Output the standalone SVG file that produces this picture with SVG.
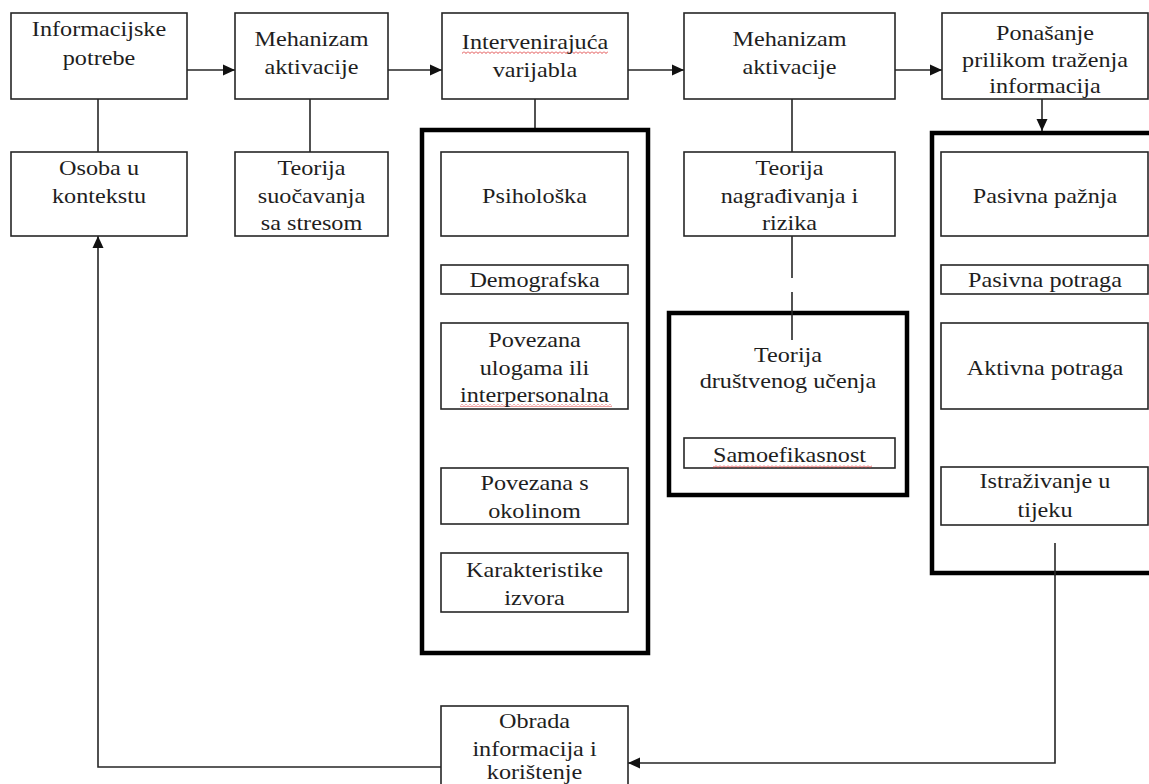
<svg xmlns="http://www.w3.org/2000/svg" width="1149" height="784" viewBox="0 0 1149 784">
<defs>
<style>
.b{fill:#fff;stroke:#262626;stroke-width:1.6}
.k{fill:#fff;stroke:#000;stroke-width:4.5}
.c{fill:none;stroke:#262626;stroke-width:1.6}
text{font-family:"Liberation Serif","Times New Roman",serif;font-size:22px;fill:#1e1e1e;text-anchor:middle}
</style>
<marker id="ah" viewBox="0 0 12 12" refX="12" refY="6" markerWidth="12" markerHeight="12" markerUnits="userSpaceOnUse" orient="auto">
<path d="M0,0.5 L12,6 L0,11.5 z" fill="#111"/>
</marker>
<pattern id="sq" width="4" height="3" patternUnits="userSpaceOnUse">
<polyline points="0,0.5 2,2.5 4,0.5" fill="none" stroke="#d33" stroke-width="0.9"/>
</pattern>
</defs>
<rect width="1149" height="784" fill="#fff"/>

<g id="connectors">
<path class="c" d="M187,70 H235" marker-end="url(#ah)"/>
<path class="c" d="M388,70 H442" marker-end="url(#ah)"/>
<path class="c" d="M628,70 H684" marker-end="url(#ah)"/>
<path class="c" d="M895,70 H942" marker-end="url(#ah)"/>
<path class="c" d="M1042,99 V131" marker-end="url(#ah)"/>
<path class="c" d="M98,99 V152"/>
<path class="c" d="M310,99 V152"/>
<path class="c" d="M535,99 V130"/>
<path class="c" d="M792,99 V152"/>
<path class="c" d="M792,236 V278"/>
<path class="c" d="M1055,543 V763 H628" marker-end="url(#ah)"/>
<path class="c" d="M441,767 H98 V236" marker-end="url(#ah)"/>
</g>

<g id="n-info-potrebe">
<rect class="b" x="11" y="13" width="176" height="86"/>
<text transform="matrix(1.1 0 0 1 99 0)"><tspan x="0" y="36">Informacijske</tspan><tspan x="0" y="65">potrebe</tspan></text>
</g>
<g id="n-mehanizam1">
<rect class="b" x="235" y="13" width="153" height="86"/>
<text transform="matrix(1.1 0 0 1 311.5 0)"><tspan x="0" y="46">Mehanizam</tspan><tspan x="0" y="74">aktivacije</tspan></text>
</g>
<g id="n-intervenirajuca">
<rect class="b" x="442" y="13" width="186" height="86"/>
<rect x="462" y="51" width="146" height="3" fill="url(#sq)"/>
<text transform="matrix(1.1 0 0 1 535 0)"><tspan x="0" y="49">Intervenirajuća</tspan><tspan x="0" y="77">varijabla</tspan></text>
</g>
<g id="n-mehanizam2">
<rect class="b" x="684" y="13" width="211" height="86"/>
<text transform="matrix(1.1 0 0 1 789.5 0)"><tspan x="0" y="46">Mehanizam</tspan><tspan x="0" y="74">aktivacije</tspan></text>
</g>
<g id="n-ponasanje">
<rect class="b" x="942" y="13" width="206" height="86"/>
<text transform="matrix(1.1 0 0 1 1045 0)"><tspan x="0" y="40">Ponašanje</tspan><tspan x="0" y="67">prilikom traženja</tspan><tspan x="0" y="93">informacija</tspan></text>
</g>

<g id="n-osoba">
<rect class="b" x="11" y="152" width="176" height="84"/>
<text transform="matrix(1.1 0 0 1 99 0)"><tspan x="0" y="175">Osoba u</tspan><tspan x="0" y="203">kontekstu</tspan></text>
</g>
<g id="n-teorija-stres">
<rect class="b" x="235" y="152" width="153" height="84"/>
<text transform="matrix(1.1 0 0 1 311.5 0)"><tspan x="0" y="175">Teorija</tspan><tspan x="0" y="203">suočavanja</tspan><tspan x="0" y="230">sa stresom</tspan></text>
</g>

<g id="g-varijable">
<rect class="k" x="422" y="130" width="226" height="523"/>
</g>
<g id="n-psiholoska">
<rect class="b" x="441" y="152" width="187" height="84"/>
<text transform="matrix(1.1 0 0 1 534.5 0)"><tspan x="0" y="203">Psihološka</tspan></text>
</g>
<g id="n-demografska">
<rect class="b" x="441" y="265" width="187" height="29"/>
<text transform="matrix(1.1 0 0 1 534.5 0)"><tspan x="0" y="287">Demografska</tspan></text>
</g>
<g id="n-ulogama">
<rect class="b" x="441" y="323" width="187" height="86"/>
<rect x="460" y="404" width="152" height="3" fill="url(#sq)"/>
<text transform="matrix(1.1 0 0 1 534.5 0)"><tspan x="0" y="347">Povezana</tspan><tspan x="0" y="375">ulogama ili</tspan><tspan x="0" y="402">interpersonalna</tspan></text>
</g>
<g id="n-okolinom">
<rect class="b" x="441" y="468" width="187" height="56"/>
<text transform="matrix(1.1 0 0 1 534.5 0)"><tspan x="0" y="490">Povezana s</tspan><tspan x="0" y="518">okolinom</tspan></text>
</g>
<g id="n-izvora">
<rect class="b" x="441" y="553" width="187" height="59"/>
<text transform="matrix(1.1 0 0 1 534.5 0)"><tspan x="0" y="577">Karakteristike</tspan><tspan x="0" y="605">izvora</tspan></text>
</g>

<g id="n-nagradivanje">
<rect class="b" x="684" y="152" width="211" height="84"/>
<text transform="matrix(1.1 0 0 1 789.5 0)"><tspan x="0" y="175">Teorija</tspan><tspan x="0" y="203">nagrađivanja i</tspan><tspan x="0" y="230">rizika</tspan></text>
</g>
<g id="n-drustveno-ucenje">
<rect class="k" x="669" y="313" width="238" height="182"/>
<path class="c" d="M792,292 V340"/>
<text transform="matrix(1.1 0 0 1 788 0)"><tspan x="0" y="362">Teorija</tspan><tspan x="0" y="388">društvenog učenja</tspan></text>
</g>
<g id="n-samoefikasnost">
<rect class="b" x="684" y="438" width="211" height="30"/>
<rect x="713" y="465" width="159" height="3" fill="url(#sq)"/>
<text transform="matrix(1.1 0 0 1 789.5 0)"><tspan x="0" y="462">Samoefikasnost</tspan></text>
</g>

<g id="g-ponasanja">
<rect class="k" x="932" y="133" width="240" height="440"/>
</g>
<g id="n-pasivna-paznja">
<rect class="b" x="941" y="152" width="207" height="84"/>
<text transform="matrix(1.1 0 0 1 1045 0)"><tspan x="0" y="203">Pasivna pažnja</tspan></text>
</g>
<g id="n-pasivna-potraga">
<rect class="b" x="941" y="265" width="207" height="29"/>
<text transform="matrix(1.1 0 0 1 1045 0)"><tspan x="0" y="287">Pasivna potraga</tspan></text>
</g>
<g id="n-aktivna-potraga">
<rect class="b" x="941" y="323" width="207" height="86"/>
<text transform="matrix(1.1 0 0 1 1045 0)"><tspan x="0" y="375">Aktivna potraga</tspan></text>
</g>
<g id="n-istrazivanje">
<rect class="b" x="941" y="467" width="207" height="58"/>
<text transform="matrix(1.1 0 0 1 1045 0)"><tspan x="0" y="488">Istraživanje u</tspan><tspan x="0" y="517">tijeku</tspan></text>
</g>
<path class="c" d="M1055,543 V575"/>

<g id="n-obrada">
<rect class="b" x="441" y="706" width="187" height="90"/>
<text transform="matrix(1.1 0 0 1 534.5 0)"><tspan x="0" y="728">Obrada</tspan><tspan x="0" y="756">informacija i</tspan><tspan x="0" y="779">korištenje</tspan></text>
</g>
</svg>
